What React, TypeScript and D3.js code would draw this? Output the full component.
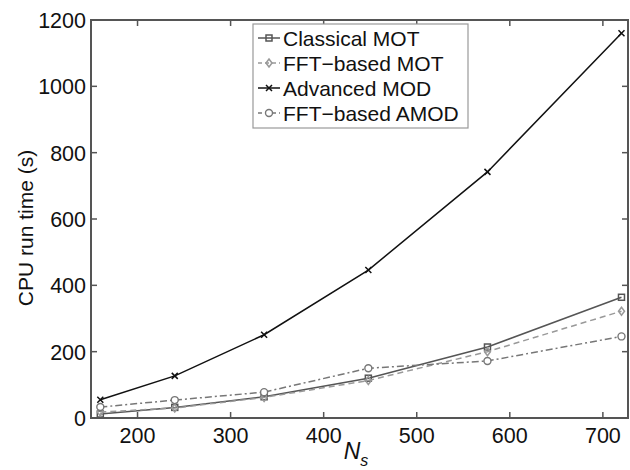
import React from "react";
import * as d3 from "d3";

// N_s values and CPU run times (s)
const ns = [160, 240, 336, 448, 576, 720];
const classicalMOT = [12, 32, 64, 120, 214, 364];
const fftMOT = [18, 30, 62, 113, 200, 322];
const advancedMOD = [55, 127, 251, 446, 742, 1160];
const fftAMOD = [33, 54, 78, 150, 172, 246];
const xTicks = [200, 300, 400, 500, 600, 700];
const yTicks = [0, 200, 400, 600, 800, 1000, 1200];

const series = [
  { name: "Classical MOT", values: classicalMOT, color: "#555", dash: "", marker: "square" },
  { name: "FFT\u2212based MOT", values: fftMOT, color: "#999", dash: "6,4", marker: "diamond" },
  { name: "Advanced MOD", values: advancedMOD, color: "#111", dash: "", marker: "x" },
  { name: "FFT\u2212based AMOD", values: fftAMOD, color: "#777", dash: "7,3,2,3", marker: "circle" },
];

function Marker({ type, x, y, color }: { type: string; x: number; y: number; color: string }) {
  const s = 3;
  if (type === "square")
    return <rect x={x - s} y={y - s} width={2 * s} height={2 * s} fill="none" stroke={color} strokeWidth={1.5} />;
  if (type === "diamond")
    return (
      <path d={`M${x},${y - s - 1}L${x + s},${y}L${x},${y + s + 1}L${x - s},${y}Z`} fill="none" stroke={color} strokeWidth={1.5} />
    );
  if (type === "x")
    return (
      <path d={`M${x - s},${y - s}L${x + s},${y + s}M${x - s},${y + s}L${x + s},${y - s}`} stroke={color} strokeWidth={1.5} />
    );
  return <circle cx={x} cy={y} r={s + 0.5} fill="white" stroke={color} strokeWidth={1.4} />;
}

export default function App() {
  const width = 630, height = 470;
  const left = 91, right = 628, top = 20, bottom = 418;
  const x = d3.scaleLinear().domain([150, 727]).range([left, right]);
  const y = d3.scaleLinear().domain([0, 1200]).range([bottom, top]);
  const line = d3.line<number>().x((_, i) => x(ns[i])).y((d) => y(d));
  const axisColor = "#555";
  const font = "Liberation Sans, Arial, sans-serif";
  const tl = 6;

  return (
    <svg width={width} height={height} style={{ position: "absolute", left: 0, top: 0 }} fontFamily={font}>
      <rect width={width} height={height} fill="white" />
      {series.map((s) => (
        <g key={s.name}>
          <path d={line(s.values) || ""} fill="none" stroke={s.color} strokeWidth={1.5} strokeDasharray={s.dash} />
          {s.values.map((v, i) => (
            <Marker key={i} type={s.marker} x={x(ns[i])} y={y(v)} color={s.color} />
          ))}
        </g>
      ))}
      {/* frame */}
      <rect x={left} y={top} width={right - left} height={bottom - top} fill="none" stroke={axisColor} strokeWidth={2} />
      {xTicks.map((t) => (
        <g key={t}>
          <line x1={x(t)} x2={x(t)} y1={bottom} y2={bottom - tl} stroke={axisColor} strokeWidth={1.5} />
          <line x1={x(t)} x2={x(t)} y1={top} y2={top + tl} stroke={axisColor} strokeWidth={1.5} />
          <text x={x(t)} y={bottom + 25} textAnchor="middle" fontSize={21.5} fill="#111">{t}</text>
        </g>
      ))}
      {yTicks.map((t) => (
        <g key={t}>
          <line x1={left} x2={left + tl} y1={y(t)} y2={y(t)} stroke={axisColor} strokeWidth={1.5} />
          <line x1={right} x2={right - tl} y1={y(t)} y2={y(t)} stroke={axisColor} strokeWidth={1.5} />
          <text x={left - 5} y={y(t) + 8} textAnchor="end" fontSize={21.5} fill="#111">{t}</text>
        </g>
      ))}
      <text transform={`translate(33,228) rotate(-90)`} textAnchor="middle" fontSize={21} fill="#111">
        CPU run time (s)
      </text>
      <text x={356} y={459} textAnchor="middle" fontSize={23} fontStyle="italic" fill="#111">
        N<tspan fontSize={16} dy={7}>s</tspan>
      </text>
      {/* legend */}
      <rect x={253} y={24} width={215} height={104} fill="white" stroke="#999" strokeWidth={1.2} />
      {series.map((s, i) => {
        const ly = 38 + i * 25;
        return (
          <g key={s.name}>
            <line x1={258} x2={280} y1={ly} y2={ly} stroke={s.color} strokeWidth={1.5} strokeDasharray={s.dash ? "4,3" : ""} />
            <Marker type={s.marker} x={269} y={ly} color={s.color} />
            <text x={283} y={ly + 7.5} fontSize={21} fill="#111">{s.name}</text>
          </g>
        );
      })}
    </svg>
  );
}
